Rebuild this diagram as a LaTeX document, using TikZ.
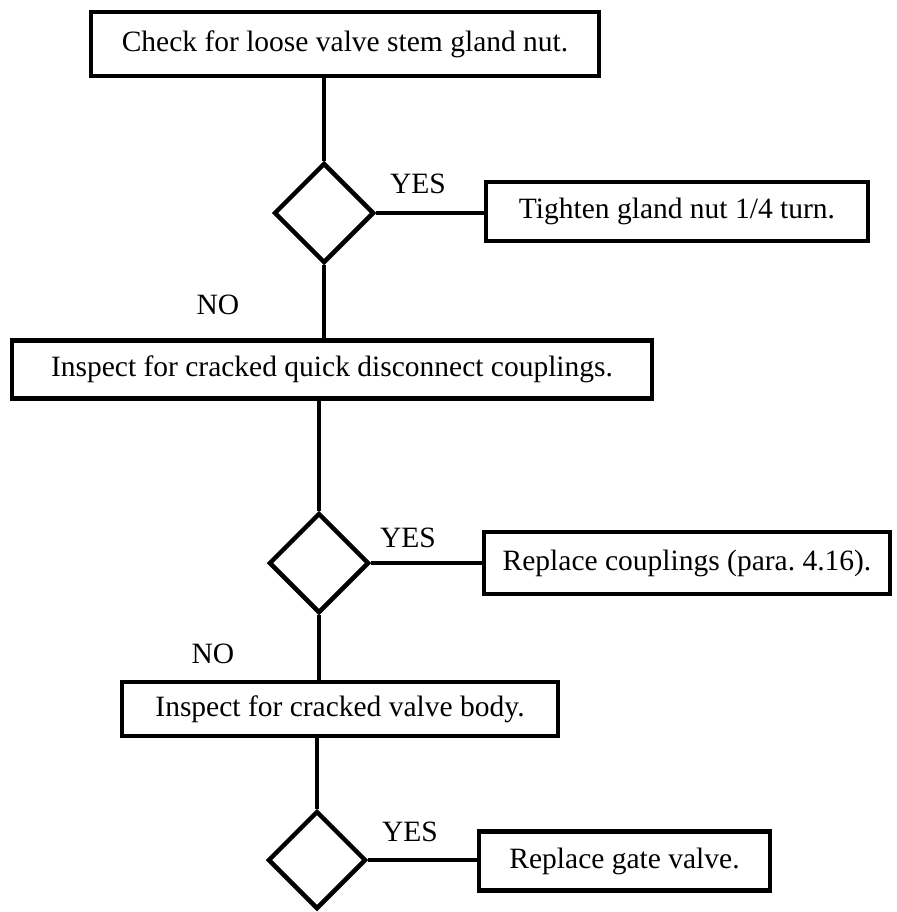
\documentclass[tikz,border=0pt]{standalone}
\usepackage{fontspec}
\setmainfont{Liberation Serif}
\usetikzlibrary{shapes.geometric}
\newcommand{\fs}{\fontsize{29.5}{33}\selectfont\frenchspacing}
\tikzset{
  box/.style={draw, line width=4.5pt, inner sep=0pt, font=\fs},
  dia/.style={draw, diamond, line width=4.5pt, inner sep=0pt, minimum width=100pt, minimum height=100pt},
  lbl/.style={font=\fs, inner sep=0pt},
  conn/.style={line width=4pt}
}
\begin{document}
\begin{tikzpicture}[x=1pt,y=-1pt]
\useasboundingbox (0,0) rectangle (896,912);
\fill[white] (0,0) rectangle (896,912);

\node[box, minimum width=508pt, minimum height=64pt] (b1) at (345,44) {Check for loose valve stem gland nut.};
\node[dia] (d1) at (324,213) {};
\node[box, minimum width=382pt, minimum height=59pt] (b2) at (677,211.5) {Tighten gland nut 1/4 turn.};
\node[lbl] (y1) at (418,184) {YES};
\node[lbl] (n1) at (218,305) {NO};
\node[box, minimum width=640pt, minimum height=58pt] (b3) at (332,369.5) {Inspect for cracked quick disconnect couplings.};
\node[dia] (d2) at (319,563) {};
\node[box, minimum width=406pt, minimum height=62pt] (b4) at (687,563) {Replace couplings (para. 4.16).};
\node[lbl] (y2) at (408,538) {YES};
\node[lbl] (n2) at (213,654) {NO};
\node[box, minimum width=436pt, minimum height=54pt] (b5) at (340,709) {Inspect for cracked valve body.};
\node[dia, minimum width=98pt, minimum height=98pt] (d3) at (317,860) {};
\node[box, minimum width=291pt, minimum height=59pt] (b6) at (624.5,861) {Replace gate valve.};
\node[lbl] (y3) at (410,832) {YES};

\draw[conn] (d1.north) -- (d1.north |- b1.south);
\draw[conn] (d1.east) -- (d1.east -| b2.west);
\draw[conn] (d1.south) -- (d1.south |- b3.north);
\draw[conn] (d2.north) -- (d2.north |- b3.south);
\draw[conn] (d2.east) -- (d2.east -| b4.west);
\draw[conn] (d2.south) -- (d2.south |- b5.north);
\draw[conn] (d3.north) -- (d3.north |- b5.south);
\draw[conn] (d3.east) -- (d3.east -| b6.west);
\end{tikzpicture}
\end{document}
